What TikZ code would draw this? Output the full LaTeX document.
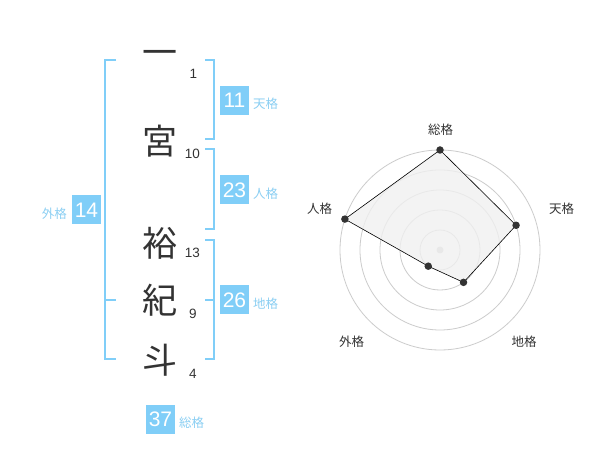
\documentclass[tikz,border=0pt]{standalone}
\usepackage{fontspec}
\setmainfont{Liberation Sans}
\newfontfamily\jp{Noto Sans CJK JP}
\definecolor{brk}{HTML}{80CEF8}
\definecolor{lbl}{HTML}{8BCFF3}
\definecolor{ink}{HTML}{333333}
\definecolor{ring}{HTML}{CCCCCC}
\definecolor{poly}{HTML}{F0F0F0}
\tikzset{
  kanji/.style={font=\jp\fontsize{35}{35}\selectfont, text=ink, inner sep=0pt},
  strokes/.style={font=\fontsize{13.5}{13.5}\selectfont, text=ink, inner sep=0pt},
  valbox/.style={fill=brk, text=white, minimum size=29pt, inner sep=0pt, font=\fontsize{21}{21}\selectfont},
  kaku/.style={font=\jp\fontsize{12.5}{12.5}\selectfont, text=lbl, inner sep=0pt},
  rlabel/.style={font=\jp\fontsize{12.5}{12.5}\selectfont, text=ink, inner sep=0pt},
  bracket/.style={draw=brk, line width=2pt},
  dotpt/.style={circle, fill=ink, inner sep=0pt, minimum size=7.5pt},
}
\begin{document}
\begin{tikzpicture}[x=1pt,y=-1pt]
\useasboundingbox[fill=white] (0,0) rectangle (600,470);
% name characters
\node[kanji] (c1) at (160,58) {一};
\node[kanji] (c2) at (160,141.5) {宮};
\node[kanji] (c3) at (160,243) {裕};
\node[kanji] (c4) at (160,300) {紀};
\node[kanji] (c5) at (160,360) {斗};
% stroke counts
\node[strokes] (n1) at (193.5,73.5) {1};
\node[strokes] (n2) at (192.5,153.5) {10};
\node[strokes] (n3) at (192.5,253) {13};
\node[strokes] (n4) at (193,313.5) {9};
\node[strokes] (n5) at (193,373.5) {4};
% brackets
\draw[bracket] (116,60) -- (105,60) -- (105,359) -- (116,359);
\draw[bracket] (105,300) -- (116,300);
\draw[bracket] (205,60) -- (214,60) -- (214,139) -- (205,139);
\draw[bracket] (205,149) -- (214,149) -- (214,229) -- (205,229);
\draw[bracket] (205,240) -- (214,240) -- (214,359) -- (205,359);
\draw[bracket] (205,300) -- (214,300);
% value boxes
\node[valbox] (b1) at (234.5,100.5) {11};
\node[kaku, anchor=west] (k1) at (253,104) {天格};
\node[valbox] (b2) at (234.5,190) {23};
\node[kaku, anchor=west] (k2) at (253,194) {人格};
\node[valbox] (b3) at (234.5,300) {26};
\node[kaku, anchor=west] (k3) at (253,304) {地格};
\node[valbox] (b4) at (86.5,210) {14};
\node[kaku, anchor=east] (k4) at (67,214) {外格};
\node[valbox] (b5) at (160.5,419) {37};
\node[kaku, anchor=west] (k5) at (179,423) {総格};
% radar chart
\begin{scope}[shift={(440,250)},y=1pt]
  \foreach \r in {20,40,60,80,100} \draw[ring, line width=0.8pt] (0,0) circle[radius=\r];
  \fill[ring] (0,0) circle[radius=3.5];
  \coordinate (ps) at (90:100);
  \coordinate (pt) at (18:80);
  \coordinate (pc) at (306:40);
  \coordinate (pg) at (234:20);
  \coordinate (pj) at (162:100);
  \filldraw[fill=poly, fill opacity=0.8, draw=black, line width=0.6pt] (ps) -- (pt) -- (pc) -- (pg) -- (pj) -- cycle;
  \foreach \p in {ps,pt,pc,pg,pj} \node[dotpt] at (\p) {};
\end{scope}
\node[rlabel] (r1) at (440.5,130) {総格};
\node[rlabel] (r2) at (561.5,208.5) {天格};
\node[rlabel] (r3) at (319.5,208.5) {人格};
\node[rlabel] (r4) at (351.5,342) {外格};
\node[rlabel] (r5) at (524,342) {地格};
\end{tikzpicture}
\end{document}
